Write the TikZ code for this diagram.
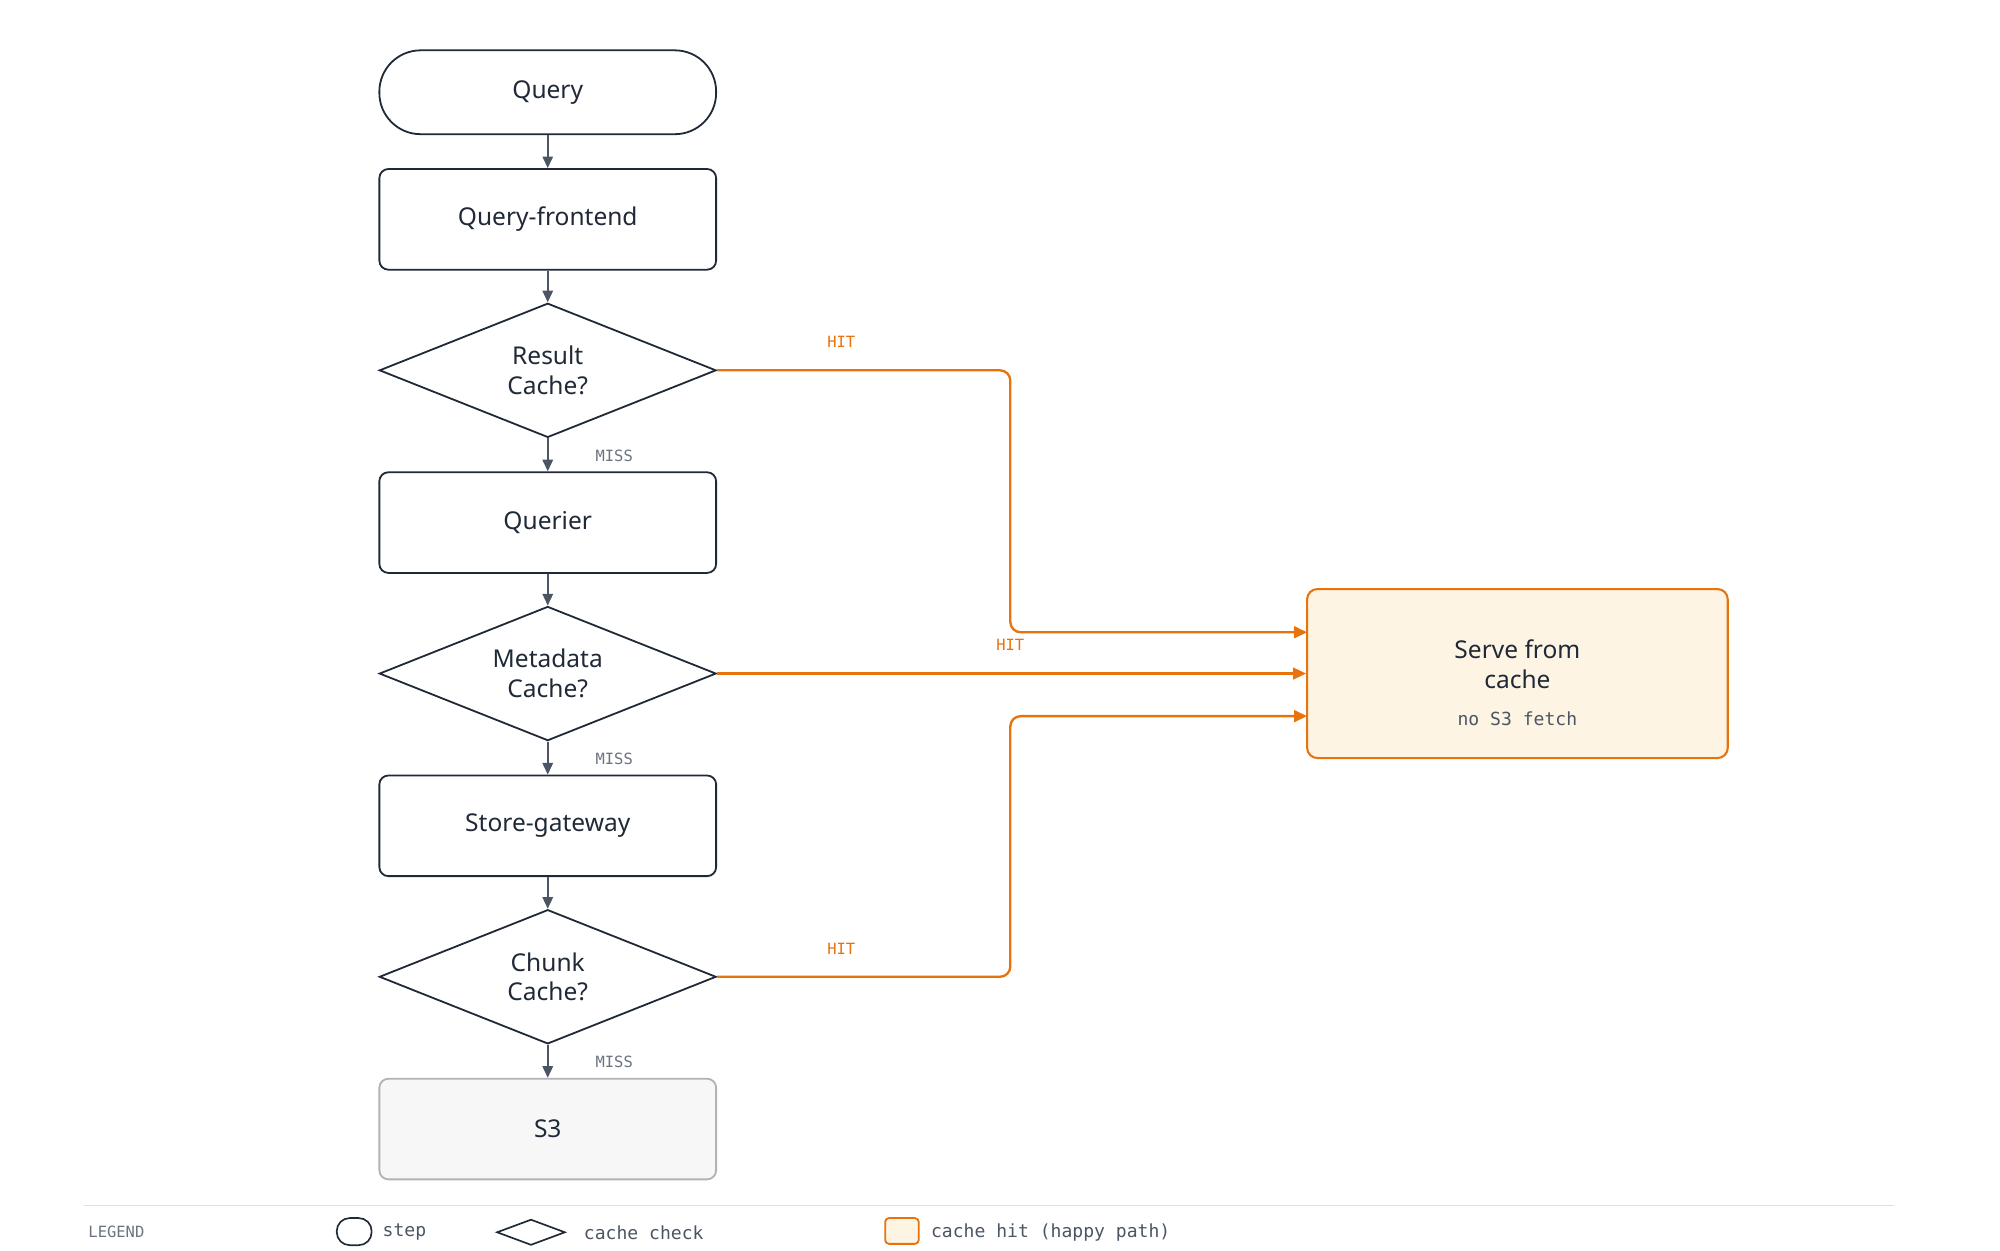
\documentclass[tikz,border=0pt]{standalone}
\usepackage{fontspec}
\setmainfont{Noto Sans}
\setmonofont{DejaVu Sans Mono}
\usetikzlibrary{shapes.geometric,arrows.meta}
\definecolor{ink}{HTML}{1F2937}
\definecolor{edge}{HTML}{4B5563}
\definecolor{orng}{HTML}{E8720C}
\definecolor{peach}{HTML}{FEF4E4}
\definecolor{muted}{HTML}{6B7280}
\begin{document}
\begin{tikzpicture}[x=1pt,y=-1pt,
  lbl/.style={font=\fontsize{19}{23}\selectfont\bfseries,text=ink,align=center},
  stepbox/.style={lbl,draw=ink,line width=1.4pt,rounded corners=7pt,minimum width=261pt,minimum height=78pt,inner sep=0},
  stad/.style={lbl,draw=ink,line width=1.4pt,rounded corners=32pt,minimum width=261pt,minimum height=65pt,inner sep=0},
  dia/.style={lbl,draw=ink,line width=1.4pt,diamond,aspect=2.5,minimum width=261pt,minimum height=104pt,inner sep=0},
  flow/.style={draw=edge,line width=1.6pt,-{Triangle[length=9pt,width=8pt]}},
  hit/.style={draw=orng,line width=1.8pt,rounded corners=8pt,-{Triangle[length=10pt,width=9pt]}},
  mtag/.style={font=\ttfamily\fontsize{12}{14}\selectfont,text=muted},
  htag/.style={font=\ttfamily\fontsize{12}{14}\selectfont,text=orng},
  leg/.style={font=\ttfamily\fontsize{14}{16}\selectfont,text=edge,anchor=west}]
\useasboundingbox (0,0) rectangle (1550,969);
\node[stad] (q) at (424.5,71.5) {Query};
\node[stepbox] (qf) at (424.5,170) {Query-frontend};
\node[dia] (rc) at (424.5,287) {Result\\Cache?};
\node[stepbox] (qr) at (424.5,405) {Querier};
\node[dia] (mc) at (424.5,522) {Metadata\\Cache?};
\node[stepbox] (sg) at (424.5,640) {Store-gateway};
\node[dia] (cc) at (424.5,757) {Chunk\\Cache?};
\node[stepbox,draw=black!30,fill=black!3] (s3) at (424.5,875) {S3};
\node[lbl,draw=orng,fill=peach,line width=1.6pt,rounded corners=8pt,minimum width=326pt,minimum height=131pt] (sv) at (1176,522) {};
\node[lbl] (svt) at (1176,515) {Serve from\\cache};
\node[font=\ttfamily\fontsize{14}{16}\selectfont,text=edge] (svs) at (1176,557) {no S3 fetch};
\draw[flow] (q) -- (qf);
\draw[flow] (qf) -- (rc);
\draw[flow] (rc) -- (qr);
\draw[flow] (qr) -- (mc);
\draw[flow] (mc) -- (sg);
\draw[flow] (sg) -- (cc);
\draw[flow] (cc) -- (s3);
\coordinate (h1) at (1013,490);
\coordinate (h3) at (1013,555);
\draw[hit] (rc.east) -- (783,287) -- (783,490) -- (h1);
\draw[hit] (mc.east) -- (sv.west);
\draw[hit] (cc.east) -- (783,757) -- (783,555) -- (h3);
\node[htag] (t1) at (652,265) {HIT};
\node[htag] (t2) at (783,500) {HIT};
\node[htag] (t3) at (652,735) {HIT};
\node[mtag] (m1) at (476,353) {MISS};
\node[mtag] (m2) at (476,588) {MISS};
\node[mtag] (m3) at (476,823) {MISS};
\coordinate (la) at (65,934);
\coordinate (lb) at (1468,934);
\draw[black!12,line width=1pt] (la) -- (lb);
\node[font=\ttfamily\fontsize{12}{14}\selectfont,text=muted,anchor=west] (lg) at (65,955) {LEGEND};
\node[draw=ink,line width=1.3pt,rounded corners=10pt,minimum width=27pt,minimum height=21pt,inner sep=0] (i1) at (274.5,954.5) {};
\node[leg] (l1) at (293,955) {step};
\node[draw=ink,line width=1.3pt,diamond,aspect=2.6,minimum width=53pt,minimum height=20pt,inner sep=0] (i2) at (411.5,955) {};
\node[leg] (l2) at (449,955) {cache check};
\node[draw=orng,fill=peach,line width=1.4pt,rounded corners=3pt,minimum width=26pt,minimum height=20pt,inner sep=0] (i3) at (699,954) {};
\node[leg] (l3) at (718,955) {cache hit (happy path)};
\end{tikzpicture}
\end{document}
